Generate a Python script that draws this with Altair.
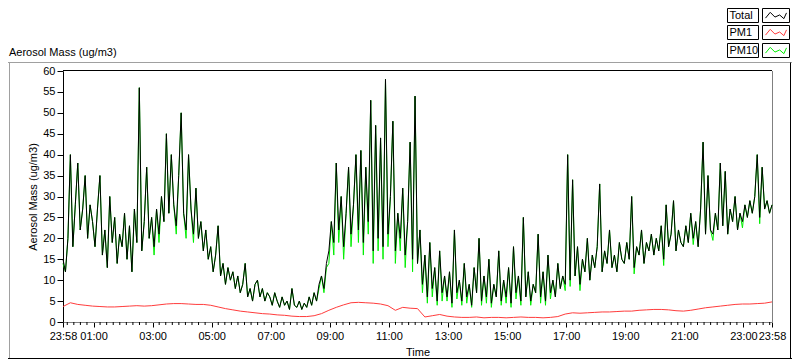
import altair as alt
import pandas as pd

FONT = "Liberation Sans"
W, H = 709, 251

# samples every 5 minutes, starting 23:58
TOTAL_STEP = 5
total = [
    15, 12, 20, 40, 18, 28, 38, 22, 27, 35, 20, 28,
    24, 18, 27, 35, 16, 22, 13, 30, 19, 25, 14, 21,
    18, 26, 15, 23, 12, 27, 19, 56, 17, 24, 37, 20,
    25, 18, 27, 21, 30, 24, 45, 26, 40, 28, 23, 35,
    50, 26, 22, 40, 27, 21, 32, 20, 24, 17, 22, 15,
    18, 12, 16, 23, 11, 14, 9, 13, 10, 12, 8, 11,
    7, 9, 14, 6, 8, 5, 9, 10, 6, 8, 5, 7,
    6, 4, 7, 5, 3.5, 6, 4, 5, 3, 8, 4, 3.5,
    5, 3, 4.5, 3.5, 6, 4, 7, 5, 9, 11, 8, 14,
    17, 24, 19, 38, 22, 30, 18, 26, 37, 21, 28, 40,
    22, 41, 19, 37, 24, 53, 17, 47, 20, 44, 18, 58,
    21, 30, 48, 17, 26, 20, 32, 16, 24, 43, 15, 54,
    14, 22, 9, 16, 6, 19, 8, 13, 5, 17, 7, 11,
    6, 12, 4.5, 22, 7, 10, 5, 14, 6, 9, 4, 13,
    7, 20, 5, 11, 6, 15, 4.5, 9, 6, 17, 5, 10,
    6, 13, 4.5, 18, 7, 11, 5, 25, 6, 12, 5, 9,
    7, 21, 6, 12, 5, 16, 7, 10, 6, 14, 8, 11,
    9, 40, 10, 34, 11, 18, 9, 15, 12, 20, 10, 16,
    13, 18, 33, 12, 17, 14, 22, 13, 16, 12, 19, 15,
    14, 19, 15, 30, 13, 18, 16, 22, 14, 19, 17, 21,
    16, 20, 17, 23, 15, 28, 18, 21, 29, 17, 22, 19,
    18, 23, 19, 26, 20, 24, 18, 27, 43, 21, 35, 22,
    21, 26, 22, 38, 23, 36, 21, 27, 24, 30, 22, 26,
    24, 28, 25, 29, 26, 30, 40, 25, 37, 27, 29, 26, 28,
]

pm10 = [
    14, 12, 20, 40, 18, 28, 38, 22, 27, 35, 20, 28,
    24, 18, 27, 35, 16, 22, 13, 30, 19, 25, 14, 21,
    18, 26, 15, 23, 12, 27, 19, 56, 17, 24, 37, 20,
    25, 16, 27, 19, 30, 24, 45, 26, 40, 28, 21, 35,
    50, 26, 20, 40, 27, 19, 32, 20, 24, 17, 22, 15,
    18, 12, 16, 23, 11, 14, 9, 13, 10, 12, 8, 11,
    7, 9, 14, 6, 8, 5, 9, 10, 6, 8, 5, 7,
    6, 4, 7, 5, 3.5, 6, 4, 5, 3, 8, 4, 3.5,
    5, 3, 4.5, 3.5, 6, 4, 7, 5, 8, 11, 7, 13,
    14, 24, 16, 38, 19, 30, 15, 26, 37, 18, 28, 40,
    19, 41, 16, 37, 21, 53, 14, 47, 17, 44, 15, 58,
    18, 30, 48, 14, 26, 17, 32, 13, 24, 43, 12, 54,
    14, 22, 7, 16, 4.5, 19, 6, 13, 4, 17, 5, 11,
    5, 12, 3.5, 22, 5.5, 10, 4, 14, 4.5, 9, 3.5, 13,
    7, 20, 4, 11, 4.5, 15, 3.5, 9, 6, 17, 4, 10,
    4.5, 13, 3.5, 18, 5.5, 11, 4, 25, 6, 12, 4, 9,
    7, 21, 4.5, 12, 4, 16, 5.5, 10, 6, 14, 8, 11,
    7.5, 40, 8.5, 34, 11, 18, 7.5, 15, 12, 20, 10, 16,
    13, 18, 33, 12, 17, 14, 22, 13, 16, 12, 19, 15,
    14, 19, 15, 30, 11.5, 18, 16, 22, 14, 19, 17, 21,
    16, 20, 17, 23, 13.5, 28, 18, 21, 29, 17, 22, 19,
    18, 23, 19, 26, 18.5, 24, 18, 27, 43, 21, 35, 22,
    19.5, 26, 22, 38, 23, 36, 21, 27, 24, 30, 22, 26,
    22.5, 28, 25, 29, 26, 30, 40, 23.5, 37, 27, 29, 26, 28,
]

# PM1 every 15 minutes
PM1_STEP = 15
pm1 = [
    3.7, 4.6, 4.2, 4.0, 3.8, 3.7, 3.6, 3.6, 3.7, 3.8, 3.9, 3.8,
    3.9, 4.1, 4.3, 4.4, 4.4, 4.3, 4.2, 4.2, 4.0, 3.6, 3.2, 2.9,
    2.6, 2.4, 2.2, 2.0, 1.9, 1.7, 1.6, 1.4, 1.3, 1.3, 1.5, 2.0,
    2.8, 3.5, 4.1, 4.6, 4.7, 4.6, 4.5, 4.3, 3.9, 2.8, 3.5, 3.3,
    3.2, 1.2, 1.5, 1.8, 1.4, 1.2, 1.1, 1.1, 1.2, 1.0, 1.1, 1.1,
    1.0, 1.1, 1.2, 1.1, 1.1, 1.0, 1.1, 1.3, 1.9, 2.2, 2.1, 2.2,
    2.3, 2.4, 2.4, 2.5, 2.6, 2.6, 2.8, 2.9, 3.0, 3.0, 2.9, 2.7,
    2.6, 2.8, 3.1, 3.4, 3.6, 3.8, 4.0, 4.2, 4.3, 4.3, 4.4, 4.5, 4.8,
]

major_ticks = [0, 62, 182, 302, 422, 542, 662, 782, 902, 1022, 1142, 1262, 1382, 1440]
major_labels = ["23:58", "01:00", "03:00", "05:00", "07:00", "09:00", "11:00",
                "13:00", "15:00", "17:00", "19:00", "21:00", "23:00", "23:58"]
y_ticks = [0, 5, 10, 15, 20, 25, 30, 35, 40, 45, 50, 55, 60]
series_names = ["Total", "PM1", "PM10"]
series_colors = ["#000000", "#ff3c3c", "#00ee00"]

# minor ticks: 9 divisions per 2-hour major interval
minor = []
k = -4
while True:
    v = 62 + k * 120 / 9
    if v > 1440:
        break
    if v >= 0 and all(abs(v - m) > 0.5 for m in major_ticks):
        minor.append(round(v, 2))
    k += 1

df_total = pd.DataFrame({"minute": [i * TOTAL_STEP for i in range(len(total))], "value": total})
df_pm10 = pd.DataFrame({"minute": [i * TOTAL_STEP for i in range(len(pm10))], "value": pm10})
df_pm1 = pd.DataFrame({"minute": [i * PM1_STEP for i in range(len(pm1))], "value": pm1})
df_minor = pd.DataFrame({"minute": minor})

label_expr = "".join(f"datum.value == {v} ? '{l}' : " for v, l in zip(major_ticks, major_labels)) + "''"

def xenc():
    return alt.X(
        "minute:Q",
        scale=alt.Scale(domain=[0, 1440], nice=False, zero=False),
        axis=alt.Axis(
            values=major_ticks, labelExpr=label_expr, title="Time",
            grid=False, tickSize=5, tickColor="#000000", domainColor="#808080",
            labelPadding=3, labelOverlap=False, labelFlush=False, labelBound=False,
            labelFont=FONT, labelFontSize=11, labelColor="#000000",
            titleFont=FONT, titleFontSize=11, titleFontWeight="normal",
            titleColor="#000000", titlePadding=5,
        ),
    )

def yenc():
    return alt.Y(
        "value:Q",
        scale=alt.Scale(domain=[0, 60], nice=False),
        axis=alt.Axis(
            values=y_ticks, title="Aerosol Mass (ug/m3)", grid=False,
            tickSize=6, tickColor="#000000", domainColor="#000000",
            labelPadding=2, labelFont=FONT, labelFontSize=11, labelColor="#000000",
            titleFont=FONT, titleFontSize=11, titleFontWeight="normal",
            titleColor="#000000", titlePadding=4,
        ),
    )

one = alt.Data(values=[{}])

def rule(x, x2, y, y2, color):
    return alt.Chart(one).mark_rule(color=color, strokeWidth=1).encode(
        x=alt.value(x), x2=alt.value(x2), y=alt.value(y), y2=alt.value(y2))

layers = []
# outer panel frame
layers.append(rule(-55, 729, -8.5, -8.5, "#a0a0a0"))
layers.append(rule(-53.5, -53.5, -8.5, 288, "#a0a0a0"))
layers.append(rule(727.5, 727.5, -8.5, 288, "#000000"))
layers.append(rule(-55, 729, 287.5, 287.5, "#000000"))
# plot border top/right
layers.append(rule(0, W, -0.5, -0.5, "#000000"))
layers.append(rule(W + 0.5, W + 0.5, 0, H, "#808080"))

# data
layers.append(alt.Chart(df_pm10).mark_line(color=series_colors[2], strokeWidth=1).encode(x=xenc(), y=yenc()))
layers.append(alt.Chart(df_total).mark_line(color=series_colors[0], strokeWidth=1).encode(x=xenc(), y=yenc()))
layers.append(alt.Chart(df_pm1).mark_line(color=series_colors[1], strokeWidth=1).encode(x=xenc(), y=yenc()))

# minor ticks
layers.append(alt.Chart(df_minor).mark_rule(color="#000000", strokeWidth=1).encode(
    x=xenc(), y=alt.value(H), y2=alt.value(H + 3)))

# top-left title
layers.append(alt.Chart(one).mark_text(
    text="Aerosol Mass (ug/m3)", font=FONT, fontSize=11, align="left",
    baseline="alphabetic", color="#000000").encode(x=alt.value(-54), y=alt.value(-15)))

# legend
row_tops = [-62.5, -45.5, -27.5]
for name, col, top in zip(series_names, series_colors, row_tops):
    layers.append(alt.Chart(one).mark_rect(fill="white", stroke="#000000", strokeWidth=1).encode(
        x=alt.value(664.5), x2=alt.value(695.5), y=alt.value(top), y2=alt.value(top + 14)))
    layers.append(alt.Chart(one).mark_rect(fill="white", stroke="#000000", strokeWidth=1).encode(
        x=alt.value(699.5), x2=alt.value(726.5), y=alt.value(top), y2=alt.value(top + 14)))
    layers.append(alt.Chart(one).mark_text(
        text=name, font=FONT, fontSize=11, align="left", baseline="middle",
        color="#000000").encode(x=alt.value(666.5), y=alt.value(top + 7.5)))
    layers.append(alt.Chart(one).mark_point(
        shape="M-1,0.25L-0.55,-0.3L-0.1,0.15L0.35,-0.05L0.75,0.3L1,-0.25",
        filled=False, stroke=col, strokeWidth=1, size=440, opacity=1).encode(
        x=alt.value(713), y=alt.value(top + 7)))

chart = alt.layer(*layers).properties(
    width=W, height=H,
    autosize=alt.AutoSizeParams(type="none"),
    padding={"left": 55, "top": 63, "right": 20, "bottom": 38},
    background="white",
).configure_view(stroke=None)

chart.save("out.html", embed_options={"renderer": "svg", "actions": False})
